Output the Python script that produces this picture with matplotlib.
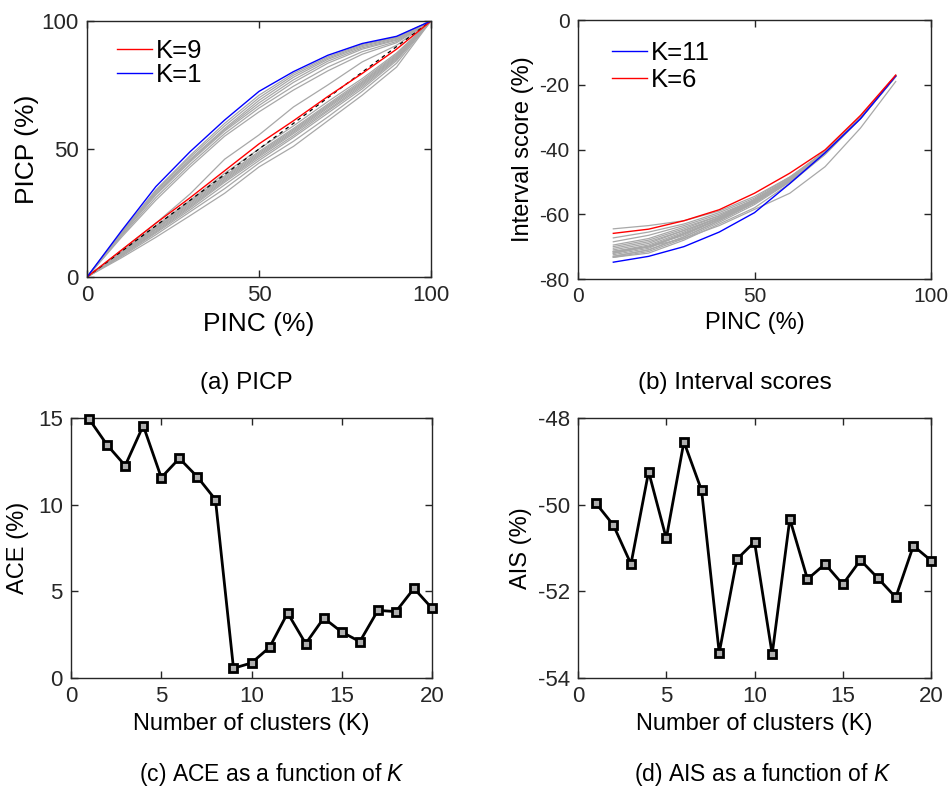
import matplotlib
matplotlib.use("Agg")
import matplotlib.pyplot as plt

plt.rcParams['font.family'] = ['Liberation Sans', 'DejaVu Sans']
plt.rcParams['mathtext.fontset'] = 'custom'
plt.rcParams['mathtext.it'] = 'Liberation Sans:italic'
plt.rcParams['mathtext.rm'] = 'Liberation Sans'
plt.rcParams['axes.unicode_minus'] = False

# ---------------- data ----------------
pinc = [0, 10, 20, 30, 40, 50, 60, 70, 80, 90, 100]
picp_k1 = [0, 18, 35.3, 49, 61.3, 72.5, 80.2, 86.6, 91.2, 94, 100]
picp_k9 = [0, 10.5, 21, 31, 41.5, 52, 61, 70.5, 79.5, 89, 100]
picp_grey = [
    [0, 17.5, 34, 47.5, 60, 71, 79.5, 86, 90.8, 93.8, 100],
    [0, 17.2, 33.5, 46.8, 59, 70, 78.8, 85.5, 90.4, 93.5, 100],
    [0, 17, 33, 46, 58, 69, 78, 85, 90, 93.2, 100],
    [0, 16.8, 32.5, 45.5, 57.5, 68, 77, 84.3, 89.5, 92.8, 100],
    [0, 16.5, 32, 45, 57, 67, 76, 83.5, 89, 92.5, 100],
    [0, 16, 31, 44, 56, 66, 74.5, 82, 88, 92, 100],
    [0, 15.5, 30, 43, 55, 64.5, 73, 80.5, 87, 91.5, 100],
    [0, 10.5, 21, 32.5, 46, 55.5, 66.4, 75, 84, 90.5, 100],
    [0, 10, 20, 30, 40.5, 50, 59, 68.5, 77.5, 87.5, 100],
    [0, 9.8, 19.5, 29.5, 39.5, 49, 58, 67.5, 76.8, 87, 100],
    [0, 9.5, 19, 29, 39, 48.5, 57.5, 67, 76.2, 86.6, 100],
    [0, 9.3, 18.8, 28.5, 38.5, 48, 57, 66.5, 75.8, 86.2, 100],
    [0, 9, 18.5, 28, 38, 47.5, 56.5, 66, 75.3, 85.8, 100],
    [0, 8.8, 18, 27.5, 37.5, 47, 56, 65.3, 74.8, 85.4, 100],
    [0, 8.6, 17.6, 27, 37, 46.3, 55.2, 64.8, 74.2, 85, 100],
    [0, 8.3, 17.2, 26.3, 36, 45.5, 54.5, 64, 73.5, 84.5, 100],
    [0, 8, 16.5, 25.5, 34.5, 44.5, 53, 62.5, 72.5, 83.5, 100],
    [0, 7.5, 15.5, 24, 32.7, 43, 51, 61, 71, 82, 100],
]

pinc_is = [10, 20, 30, 40, 50, 60, 70, 80, 90]
is_k11 = [-74.8, -73, -70, -65.5, -59.5, -50.5, -41, -30.5, -17.3]
is_k6 = [-65.9, -64.6, -62, -58.6, -53.5, -47.3, -40.1, -29.5, -17.0]
is_grey = [
    [-71.5, -70, -67.5, -63.5, -58.5, -53.5, -45.3, -33.4, -19.0],
    [-64.5, -63.5, -62, -59, -54.5, -48.5, -41, -30.5, -17.5],
    [-67.3, -65.5, -63, -59.5, -55, -48.5, -40.5, -30, -17.2],
    [-68.5, -66.5, -63.5, -60, -55.5, -49, -41, -30, -17.2],
    [-69.5, -67.5, -64, -60.5, -55.5, -49, -40.5, -30, -17.2],
    [-70, -68, -64.5, -60.5, -55.5, -49, -41, -30, -17.3],
    [-70.5, -68.5, -65, -61, -56, -49, -41, -30, -17.3],
    [-71, -69, -65, -61, -56, -49.5, -41, -30, -17.3],
    [-71.5, -69.5, -65.5, -61, -55.5, -49, -40.5, -30, -17.2],
    [-72, -70, -66, -61.5, -56, -49.5, -41, -30.5, -17.3],
    [-72, -70, -66, -61.5, -56, -49, -41, -30, -17.3],
    [-71.5, -70, -66, -61.5, -56.5, -49.5, -41, -30, -17.2],
    [-72, -70, -66.5, -61.5, -56, -49.5, -41, -30, -17.3],
    [-72.5, -70.5, -66, -61.5, -56, -49.5, -41, -30, -17.2],
    [-73, -71, -67, -62, -56.5, -49.5, -41, -30.5, -17.3],
    [-73, -71, -67, -62, -56.5, -50, -41, -30, -17.3],
    [-73.3, -71.5, -67.5, -62.5, -57, -50, -41.5, -30.5, -17.4],
    [-73.3, -72, -68, -63, -58, -50.5, -41.5, -30.5, -17.5],
]

k_vals = list(range(1, 21))
ace = [14.94, 13.44, 12.25, 14.56, 11.56, 12.67, 11.6, 10.29, 0.56, 0.87,
       1.77, 3.75, 1.98, 3.46, 2.65, 2.10, 3.90, 3.83, 5.17, 4.02]
ais = [-49.96, -50.47, -51.37, -49.24, -50.78, -48.55, -49.67, -53.42, -51.26, -50.86,
       -53.45, -50.33, -51.72, -51.37, -51.84, -51.28, -51.70, -52.14, -50.95, -51.29]

# ---------------- figure ----------------
fig = plt.figure(figsize=(9.51, 7.94), dpi=100)
axc = '#262626'

def style(ax, tick_fs):
    ax.tick_params(direction='in', top=True, right=True, length=5, width=1,
                   labelsize=tick_fs, colors=axc, pad=6)
    for s in ax.spines.values():
        s.set_color(axc)
        s.set_linewidth(1.0)

# (a)
ax1 = fig.add_axes([0.0915, 0.6511, 0.3617, 0.3225])
for c in picp_grey:
    ax1.plot(pinc, c, color='#a8a8a8', lw=0.9)
ax1.plot([0, 100], [0, 100], color='black', lw=0.9, ls=(0, (3, 3)))
l9, = ax1.plot(pinc, picp_k9, color='red', lw=1.0, label='K=9')
l1, = ax1.plot(pinc, picp_k1, color='blue', lw=1.0, label='K=1')
ax1.set_xlim(0, 100)
ax1.set_ylim(0, 100)
ax1.set_xticks([0, 50, 100])
ax1.set_yticks([0, 50, 100])
style(ax1, 16)
ax1.set_xlabel('PINC (%)', fontsize=19, labelpad=4)
ax1.set_ylabel('PICP (%)', fontsize=19, labelpad=2)
ax1.legend(handles=[l9, l1], loc='upper left', frameon=False, fontsize=18.5,
           handlelength=1.35, handletextpad=0.15, labelspacing=0.0,
           borderaxespad=0.3, bbox_to_anchor=(0.035, 1.0))

# (b)
ax2 = fig.add_axes([0.6078, 0.6486, 0.3712, 0.3262])
for c in is_grey:
    ax2.plot(pinc_is, c, color='#a8a8a8', lw=0.9)
b11, = ax2.plot(pinc_is, is_k11, color='blue', lw=1.0, label='K=11')
r6, = ax2.plot(pinc_is, is_k6, color='red', lw=1.0, label='K=6')
ax2.set_xlim(0, 100)
ax2.set_ylim(-80, 0)
ax2.set_xticks([0, 50, 100])
ax2.set_yticks([-80, -60, -40, -20, 0])
style(ax2, 15)
ax2.set_xlabel('PINC (%)', fontsize=17, labelpad=4)
ax2.set_ylabel('Interval score (%)', fontsize=17, labelpad=4)
ax2.legend(handles=[b11, r6], loc='upper left', frameon=False, fontsize=18.5,
           handlelength=1.35, handletextpad=0.15, labelspacing=0.12,
           borderaxespad=0.3, bbox_to_anchor=(0.045, 0.99))

# (c)
ax3 = fig.add_axes([0.0747, 0.1461, 0.3796, 0.3275])
ax3.plot(k_vals, ace, color='black', lw=2.0, marker='s', markersize=6,
         mfc='#b0b0b0', mec='black', mew=2.0, clip_on=False, zorder=3)
ax3.set_xlim(0, 20)
ax3.set_ylim(0, 15)
ax3.set_xticks([0, 5, 10, 15, 20])
ax3.set_yticks([0, 5, 10, 15])
style(ax3, 16)
ax3.set_xlabel('Number of clusters (K)', fontsize=17, labelpad=4)
ax3.set_ylabel('ACE (%)', fontsize=17, labelpad=6)

# (d)
ax4 = fig.add_axes([0.6078, 0.1461, 0.3712, 0.3275])
ax4.plot(k_vals, ais, color='black', lw=2.0, marker='s', markersize=6,
         mfc='#b0b0b0', mec='black', mew=2.0, clip_on=False, zorder=3)
ax4.set_xlim(0, 20)
ax4.set_ylim(-54, -48)
ax4.set_xticks([0, 5, 10, 15, 20])
ax4.set_yticks([-54, -52, -50, -48])
style(ax4, 16)
ax4.set_xlabel('Number of clusters (K)', fontsize=17, labelpad=4)
ax4.set_ylabel('AIS (%)', fontsize=17, labelpad=4)

# captions
fig.text(0.2587, 0.5176, '(a) PICP', ha='center', va='center', fontsize=17.5)
fig.text(0.773, 0.5176, '(b) Interval scores', ha='center', va='center', fontsize=17.5)
fig.text(0.286, 0.024, r'(c) ACE as a function of $\it{K}$', ha='center', va='center', fontsize=16.5)
fig.text(0.802, 0.024, r'(d) AIS as a function of $\it{K}$', ha='center', va='center', fontsize=16.5)

fig.savefig('out.png', dpi=100)
